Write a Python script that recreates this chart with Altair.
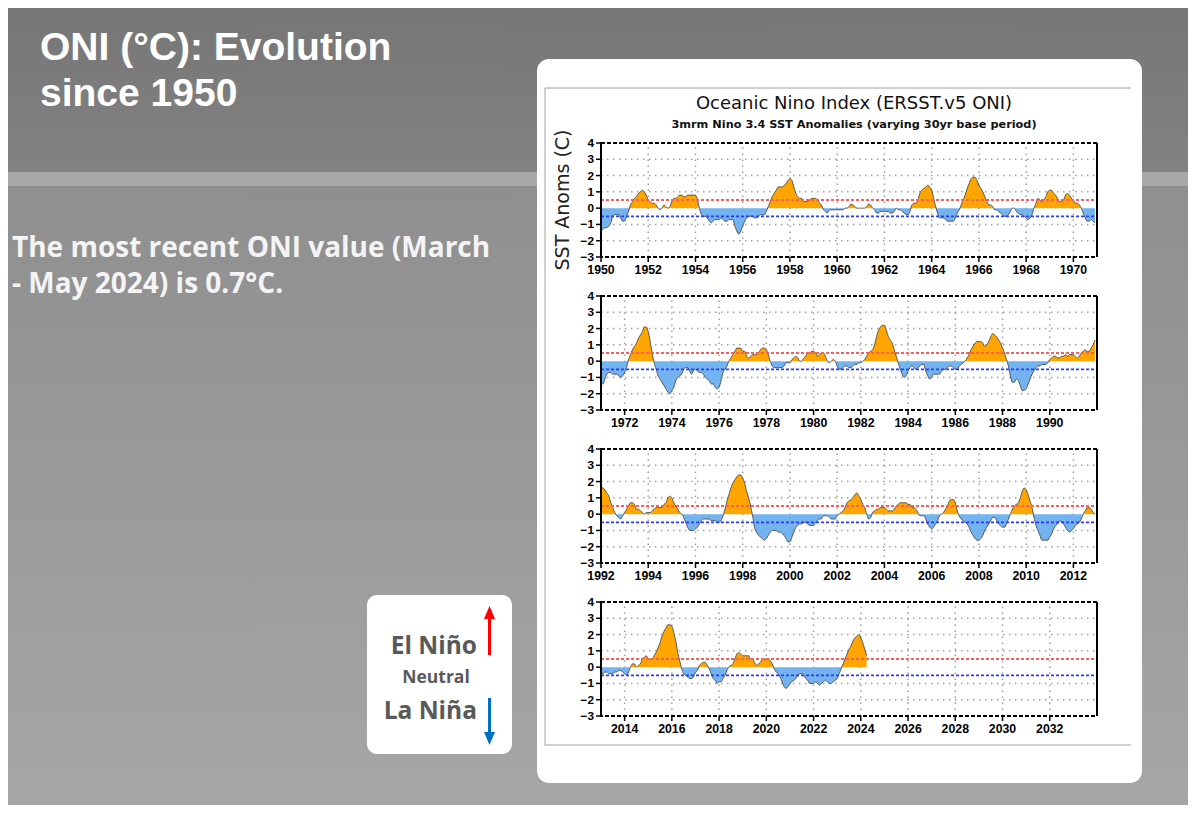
import altair as alt
import pandas as pd

# ---------------- data: 3-month running mean ONI (DJF, JFM, ... NDJ) ----------------
ONI_1950S = [
    -1.4, -1.3, -1.2, -1.2, -1.1, -0.9, -0.5, -0.4, -0.4, -0.4, -0.6, -0.8,
    -0.8, -0.5, -0.2, 0.2, 0.4, 0.6, 0.7, 0.9, 1.0, 1.1, 1.0, 0.8,
    0.5, 0.4, 0.3, 0.3, 0.2, 0.0, -0.1, 0.0, 0.2, 0.1, 0.0, 0.1,
    0.4, 0.6, 0.6, 0.7, 0.8, 0.8, 0.7, 0.7, 0.8, 0.8, 0.8, 0.8,
    0.8, 0.5, 0.0, -0.4, -0.5, -0.5, -0.6, -0.8, -0.9, -0.8, -0.7, -0.7,
    -0.7, -0.6, -0.7, -0.8, -0.8, -0.7, -0.7, -0.7, -1.1, -1.4, -1.6, -1.4,
    -1.1, -0.8, -0.6, -0.5, -0.5, -0.5, -0.6, -0.6, -0.5, -0.4, -0.4, -0.4,
    -0.2, 0.1, 0.4, 0.7, 0.9, 1.1, 1.3, 1.3, 1.3, 1.4, 1.5, 1.7,
    1.8, 1.7, 1.3, 0.9, 0.7, 0.6, 0.6, 0.4, 0.4, 0.4, 0.5, 0.6,
    0.6, 0.6, 0.5, 0.3, 0.2, -0.1, -0.2, -0.3, -0.1, -0.1, -0.1, -0.1,
]
ONI_1960S = [
    -0.1, -0.1, -0.1, -0.1, 0.0, 0.0, 0.1, 0.25, 0.2, 0.1, 0.0, 0.0,
    0.0, 0.0, 0.0, 0.1, 0.25, 0.2, 0.0, -0.1, -0.3, -0.3, -0.2, -0.2,
    -0.2, -0.2, -0.2, -0.3, -0.3, -0.2, 0.0, -0.1, -0.1, -0.2, -0.3, -0.4,
    -0.4, -0.2, 0.2, 0.3, 0.3, 0.5, 0.9, 1.1, 1.2, 1.3, 1.4, 1.3,
    1.1, 0.6, 0.1, -0.3, -0.6, -0.6, -0.6, -0.7, -0.8, -0.8, -0.8, -0.8,
    -0.6, -0.3, -0.1, 0.2, 0.5, 0.8, 1.2, 1.5, 1.8, 1.9, 1.9, 1.7,
    1.4, 1.2, 1.0, 0.7, 0.4, 0.2, 0.2, 0.1, -0.1, -0.1, -0.2, -0.3,
    -0.4, -0.5, -0.5, -0.4, -0.2, 0.0, 0.0, -0.2, -0.3, -0.4, -0.4, -0.5,
    -0.6, -0.7, -0.6, -0.4, 0.0, 0.3, 0.6, 0.5, 0.4, 0.5, 0.7, 1.0,
    1.1, 1.1, 0.9, 0.8, 0.6, 0.4, 0.4, 0.5, 0.8, 0.9, 0.8, 0.6,
]
ONI_1970S = [
    0.5, 0.3, 0.3, 0.2, 0.0, -0.3, -0.6, -0.8, -0.8, -0.7, -0.8, -0.9,
    -1.4, -1.4, -1.1, -0.8, -0.7, -0.7, -0.8, -0.8, -0.8, -0.9, -1.0, -0.9,
    -0.7, -0.4, 0.1, 0.4, 0.7, 0.9, 1.1, 1.4, 1.6, 1.8, 2.1, 2.1,
    1.8, 1.2, 0.5, -0.1, -0.5, -0.9, -1.1, -1.3, -1.5, -1.7, -1.9, -2.0,
    -1.8, -1.6, -1.2, -1.0, -0.9, -0.8, -0.5, -0.4, -0.4, -0.6, -0.8, -0.6,
    -0.5, -0.6, -0.7, -0.7, -0.8, -1.0, -1.1, -1.2, -1.4, -1.4, -1.6, -1.7,
    -1.6, -1.2, -0.7, -0.5, -0.3, 0.0, 0.2, 0.4, 0.6, 0.8, 0.8, 0.8,
    0.6, 0.6, 0.3, 0.2, 0.3, 0.4, 0.4, 0.4, 0.5, 0.7, 0.8, 0.8,
    0.7, 0.4, 0.0, -0.3, -0.4, -0.4, -0.4, -0.4, -0.4, -0.3, -0.1, -0.1,
    -0.1, 0.1, 0.2, 0.3, 0.2, 0.0, 0.0, 0.2, 0.3, 0.5, 0.5, 0.6,
]
ONI_1980S = [
    0.6, 0.5, 0.3, 0.4, 0.5, 0.5, 0.3, 0.0, -0.1, 0.0, 0.1, 0.0,
    -0.3, -0.5, -0.5, -0.4, -0.3, -0.3, -0.4, -0.4, -0.3, -0.2, -0.2, -0.1,
    -0.1, 0.0, 0.1, 0.3, 0.5, 0.6, 0.7, 1.0, 1.5, 1.9, 2.1, 2.2,
    2.2, 1.9, 1.5, 1.3, 1.1, 0.7, 0.3, -0.1, -0.5, -0.8, -1.0, -0.9,
    -0.6, -0.4, -0.3, -0.4, -0.5, -0.4, -0.3, -0.2, -0.2, -0.6, -0.9, -1.1,
    -1.0, -0.8, -0.8, -0.8, -0.8, -0.6, -0.5, -0.5, -0.4, -0.3, -0.3, -0.4,
    -0.5, -0.5, -0.3, -0.2, -0.1, 0.0, 0.2, 0.4, 0.7, 0.9, 1.1, 1.2,
    1.2, 1.2, 1.1, 0.9, 1.0, 1.2, 1.5, 1.7, 1.6, 1.5, 1.3, 1.1,
    0.8, 0.5, 0.1, -0.3, -0.9, -1.3, -1.3, -1.1, -1.2, -1.5, -1.8, -1.8,
    -1.7, -1.4, -1.1, -0.8, -0.6, -0.4, -0.3, -0.3, -0.2, -0.2, -0.2, -0.1,
]
ONI_1990S = [
    0.1, 0.2, 0.3, 0.3, 0.2, 0.2, 0.3, 0.3, 0.4, 0.3, 0.4, 0.4,
    0.4, 0.3, 0.2, 0.3, 0.5, 0.6, 0.7, 0.6, 0.6, 0.8, 1.0, 1.3,
    1.7, 1.6, 1.5, 1.3, 1.1, 0.7, 0.4, 0.1, -0.1, -0.2, -0.3, -0.1,
    0.1, 0.3, 0.5, 0.7, 0.7, 0.6, 0.3, 0.3, 0.2, 0.1, 0.0, 0.1,
    0.1, 0.1, 0.2, 0.3, 0.4, 0.4, 0.4, 0.4, 0.6, 0.7, 1.0, 1.1,
    1.0, 0.7, 0.5, 0.3, 0.1, 0.0, -0.2, -0.5, -0.8, -1.0, -1.0, -1.0,
    -0.9, -0.8, -0.6, -0.4, -0.3, -0.3, -0.3, -0.3, -0.4, -0.4, -0.4, -0.5,
    -0.5, -0.4, -0.1, 0.3, 0.8, 1.2, 1.6, 1.9, 2.1, 2.3, 2.4, 2.4,
    2.2, 1.9, 1.4, 1.0, 0.5, -0.1, -0.8, -1.1, -1.3, -1.4, -1.5, -1.6,
    -1.5, -1.3, -1.1, -1.0, -1.0, -1.0, -1.1, -1.1, -1.2, -1.3, -1.5, -1.7,
]
ONI_2000S = [
    -1.7, -1.4, -1.1, -0.8, -0.7, -0.6, -0.6, -0.5, -0.5, -0.6, -0.7, -0.7,
    -0.7, -0.5, -0.4, -0.3, -0.3, -0.1, -0.1, -0.1, -0.2, -0.3, -0.3, -0.3,
    -0.1, 0.0, 0.1, 0.2, 0.4, 0.7, 0.8, 0.9, 1.0, 1.2, 1.3, 1.1,
    0.9, 0.6, 0.4, 0.0, -0.3, -0.2, 0.1, 0.2, 0.3, 0.3, 0.4, 0.4,
    0.4, 0.3, 0.2, 0.2, 0.2, 0.3, 0.5, 0.6, 0.7, 0.7, 0.7, 0.7,
    0.6, 0.6, 0.4, 0.4, 0.3, 0.1, -0.1, -0.1, -0.1, -0.3, -0.6, -0.8,
    -0.9, -0.8, -0.6, -0.4, -0.1, 0.0, 0.1, 0.3, 0.5, 0.8, 0.9, 0.9,
    0.7, 0.2, -0.1, -0.3, -0.4, -0.5, -0.6, -0.8, -1.1, -1.3, -1.5, -1.6,
    -1.6, -1.5, -1.3, -1.0, -0.8, -0.6, -0.4, -0.2, -0.2, -0.4, -0.6, -0.7,
    -0.8, -0.8, -0.6, -0.3, 0.0, 0.3, 0.5, 0.6, 0.7, 1.0, 1.4, 1.6,
]
ONI_2010S = [
    1.5, 1.2, 0.8, 0.4, -0.2, -0.7, -1.0, -1.3, -1.6, -1.6, -1.6, -1.6,
    -1.4, -1.2, -0.9, -0.7, -0.6, -0.4, -0.5, -0.6, -0.8, -1.0, -1.1, -1.0,
    -0.9, -0.7, -0.6, -0.5, -0.3, 0.0, 0.2, 0.4, 0.4, 0.3, 0.1, 0.0,
    -0.4, -0.4, -0.3, -0.3, -0.4, -0.4, -0.4, -0.3, -0.3, -0.2, -0.2, -0.3,
    -0.4, -0.5, -0.3, 0.0, 0.2, 0.2, 0.0, 0.1, 0.2, 0.5, 0.6, 0.7,
    0.5, 0.5, 0.5, 0.7, 0.9, 1.2, 1.5, 1.9, 2.2, 2.4, 2.6, 2.6,
    2.5, 2.1, 1.6, 0.9, 0.4, -0.1, -0.4, -0.5, -0.6, -0.7, -0.7, -0.6,
    -0.3, -0.2, 0.1, 0.2, 0.3, 0.3, 0.1, -0.1, -0.4, -0.7, -0.8, -1.0,
    -0.9, -0.9, -0.7, -0.5, -0.2, 0.0, 0.1, 0.2, 0.5, 0.8, 0.9, 0.8,
    0.7, 0.7, 0.7, 0.7, 0.5, 0.5, 0.3, 0.1, 0.2, 0.3, 0.5, 0.5,
]
ONI_2020S = [
    0.5, 0.5, 0.4, 0.2, -0.1, -0.3, -0.4, -0.6, -0.9, -1.2, -1.3, -1.2,
    -1.0, -0.9, -0.8, -0.7, -0.5, -0.4, -0.4, -0.5, -0.7, -0.8, -1.0, -1.0,
    -1.0, -0.9, -1.0, -1.1, -1.0, -0.9, -0.8, -0.9, -1.0, -1.0, -0.9, -0.8,
    -0.7, -0.4, -0.1, 0.2, 0.5, 0.8, 1.1, 1.3, 1.6, 1.8, 1.9, 2.0,
    1.8, 1.5, 1.1, 0.7,
]
DECADE_STARTS = [1950, 1960, 1970, 1980, 1990, 2000, 2010, 2020]

PANEL_STARTS = [1950, 1971, 1992, 2013]
PANEL_SPAN = 21
PANEL_TICKS = [
    [1950, 1952, 1954, 1956, 1958, 1960, 1962, 1964, 1966, 1968, 1970],
    [1972, 1974, 1976, 1978, 1980, 1982, 1984, 1986, 1988, 1990],
    [1992, 1994, 1996, 1998, 2000, 2002, 2004, 2006, 2008, 2010, 2012],
    [2014, 2016, 2018, 2020, 2022, 2024, 2026, 2028, 2030, 2032],
]
Y_TICKS = [-3, -2, -1, 0, 1, 2, 3, 4]
GRID_Y = [-2, -1, 1, 2, 3]
EL_NINO_LEVEL = [0.5]
LA_NINA_LEVEL = [-0.5]

TITLE_LINES = ["ONI (°C): Evolution", "since 1950"]
BODY_LINES = ["The most recent ONI value (March", "- May 2024) is 0.7°C."]
LEGEND_TEXT = ["El Niño", "Neutral", "La Niña"]
CHART_TITLE = "Oceanic Nino Index (ERSST.v5 ONI)"
CHART_SUBTITLE = "3mrm Nino 3.4 SST Anomalies (varying 30yr base period)"
Y_TITLE = "SST Anoms (C)"

# ---------------- build the series table ----------------
times, vals = [], []
for d0, arr in zip(DECADE_STARTS, [ONI_1950S, ONI_1960S, ONI_1970S, ONI_1980S,
                                   ONI_1990S, ONI_2000S, ONI_2010S, ONI_2020S]):
    for i, v in enumerate(arr):
        times.append(d0 + i / 12.0)
        vals.append(v)
series = pd.DataFrame({"t": times, "v": vals})
series["pos"] = series["v"].clip(lower=0)
series["neg"] = series["v"].clip(upper=0)

# ---------------- layout (chart pixels) ----------------
W, H = 1180, 797
PX0, PX1 = 593, 1089
PANEL_TOPS = [135, 288, 441, 594]
PANEL_H = 114
ORANGE = "#FFA500"
LIGHTBLUE = "#73b3f0"
LABEL_FONT = "Liberation Sans"

one = pd.DataFrame({"k": [0]})


def box(x, x2, y, y2, fill, radius=0):
    return alt.Chart(one).mark_rect(fill=fill, cornerRadius=radius).encode(
        x=alt.value(x), x2=alt.value(x2), y=alt.value(y), y2=alt.value(y2))


def hline(x, x2, y, color, width):
    return alt.Chart(one).mark_rule(color=color, strokeWidth=width).encode(
        x=alt.value(x), x2=alt.value(x2), y=alt.value(y))


def vline(x, y, y2, color, width):
    return alt.Chart(one).mark_rule(color=color, strokeWidth=width).encode(
        x=alt.value(x), y=alt.value(y), y2=alt.value(y2))


def txt(text, x, y, size, color, weight="bold", font="Open Sans", align="left",
        baseline="alphabetic", angle=0, opacity=1.0, line_height=20):
    return alt.Chart(one).mark_text(
        text=text, font=font, fontSize=size, fontWeight=weight, color=color,
        align=align, baseline=baseline, angle=angle, opacity=opacity, lineHeight=line_height,
    ).encode(x=alt.value(x), y=alt.value(y))


def grad(c0, c1):
    return alt.Gradient(gradient="linear",
                        stops=[alt.GradientStop(color=c0, offset=0),
                               alt.GradientStop(color=c1, offset=1)],
                        x1=0, x2=0, y1=0, y2=1)


decor = [
    box(0, W, 0, 164, grad("#767676", "#828282")),
    box(0, W, 164, 178, "#a8a8a8"),
    box(0, W, 178, H, grad("#8f8f8f", "#a6a6a6")),
    box(529, 1134, 51, 775, "white", 12),
    vline(537, 80, 737, "#a0a0a0", 1),
    hline(537, 1123, 80, "#a0a0a0", 1),
    hline(537, 1123, 737, "#a0a0a0", 1),
    # slide title and comment (multi-line texts)
    txt(TITLE_LINES, 32, 52, 39, "white", font="Liberation Sans", line_height=46),
    txt(BODY_LINES, 4, 249, 28, "#f4f4f4", line_height=36),
    # legend box
    box(359, 504, 587, 746, "white", 10),
    txt(LEGEND_TEXT[0], 469, 646, 24.5, "#595959", align="right"),
    txt(LEGEND_TEXT[1], 428, 675, 17.5, "#595959", align="center"),
    txt(LEGEND_TEXT[2], 469, 711, 24.5, "#595959", align="right"),
    vline(481.5, 647, 606, "#ff0000", 3),
    alt.Chart(one).mark_point(shape="M0,-1L-0.85,1L0.85,1Z", filled=True, color="#ff0000",
                              size=169, opacity=1, strokeWidth=0).encode(
        x=alt.value(481.5), y=alt.value(604.5)),
    vline(481.5, 690, 729, "#0070c0", 3),
    alt.Chart(one).mark_point(shape="M0,1L-0.85,-1L0.85,-1Z", filled=True, color="#0070c0",
                              size=169, opacity=1, strokeWidth=0).encode(
        x=alt.value(481.5), y=alt.value(730.5)),
    # chart titles
    txt(CHART_TITLE, 846, 96, 18, "#111111", weight="normal", font="DejaVu Sans",
        align="center", baseline="middle"),
    txt(CHART_SUBTITLE, 846, 117, 11.3, "#111111", weight="bold", font="DejaVu Sans",
        align="center", baseline="middle"),
    txt(Y_TITLE, 555, 192, 19, "#222222", weight="normal", font="DejaVu Sans",
        align="center", baseline="middle", angle=270),
]


def panel(k):
    s = PANEL_STARTS[k]
    e = s + PANEL_SPAN
    top = PANEL_TOPS[k]
    bot = top + PANEL_H
    xs = alt.Scale(domain=[s, e], range=[PX0, PX1], zero=False, nice=False)
    ys = alt.Scale(domain=[-3, 4], range=[bot, top], zero=False, nice=False)
    d = series[(series["t"] > s - 0.01) & (series["t"] < e - 0.01)]

    def X(f):
        return alt.X(f, type="quantitative", scale=xs, axis=None)

    def Y(f):
        return alt.Y(f, type="quantitative", scale=ys, axis=None, stack=None)

    inner_ticks = [t for t in PANEL_TICKS[k] if s < t < e]
    dots = dict(color="#a0a0a0", strokeWidth=1.5, strokeDash=[1.5, 4.5])
    vgrid = alt.Chart(pd.DataFrame({"x": inner_ticks, "lo": -3, "hi": 4})).mark_rule(**dots).encode(
        x=X("x"), y=Y("lo"), y2="hi")
    hgrid = alt.Chart(pd.DataFrame({"y": GRID_Y, "lo": s, "hi": e})).mark_rule(**dots).encode(
        x=X("lo"), x2="hi", y=Y("y"))
    pos = alt.Chart(d).mark_area(color=ORANGE, interpolate="monotone").encode(x=X("t"), y=Y("pos"))
    neg = alt.Chart(d).mark_area(color=LIGHTBLUE, interpolate="monotone").encode(x=X("t"), y=Y("neg"))
    line = alt.Chart(d).mark_line(color="#4a4a4a", strokeWidth=0.9, interpolate="monotone").encode(
        x=X("t"), y=Y("v"))
    red = alt.Chart(pd.DataFrame({"y": EL_NINO_LEVEL, "lo": s, "hi": e})).mark_rule(
        color="#ff5c5c", strokeWidth=1.8, strokeDash=[3, 2]).encode(x=X("lo"), x2="hi", y=Y("y"))
    blue = alt.Chart(pd.DataFrame({"y": LA_NINA_LEVEL, "lo": s, "hi": e})).mark_rule(
        color="#2a3cff", strokeWidth=1.8, strokeDash=[3, 2]).encode(x=X("lo"), x2="hi", y=Y("y"))
    frame = alt.Chart(pd.DataFrame({"x0": [s], "x1": [e], "y0": [-3], "y1": [4]})).mark_rect(
        fillOpacity=0, stroke="black", strokeWidth=2, strokeDash=[4, 2]).encode(
        x=X("x0"), x2="x1", y=Y("y0"), y2="y1")
    sides = alt.Chart(pd.DataFrame({"x": [s, e], "lo": [-3, -3], "hi": [4, 4]})).mark_rule(
        color="black", strokeWidth=2).encode(x=X("x"), y=Y("lo"), y2="hi")
    # y axis: ticks and labels
    ydf = pd.DataFrame({"x": s, "y": Y_TICKS})
    yticks = alt.Chart(ydf).mark_tick(orient="horizontal", size=5, thickness=1.5, color="black",
                                      xOffset=-2.5, opacity=1).encode(x=X("x"), y=Y("y"))
    ylabels = alt.Chart(ydf).mark_text(font=LABEL_FONT, fontWeight="bold", fontSize=11.8,
                                       color="black", align="right", baseline="middle",
                                       dx=-7).encode(
        x=X("x"), y=Y("y"), text=alt.Text("y:Q", format="d"))
    # x axis: ticks and labels
    xdf = pd.DataFrame({"x": PANEL_TICKS[k], "y": -3})
    xticks = alt.Chart(xdf).mark_tick(orient="vertical", size=5, thickness=1.5, color="black",
                                      yOffset=2.5, opacity=1).encode(x=X("x"), y=Y("y"))
    xlabels = alt.Chart(xdf).mark_text(font=LABEL_FONT, fontWeight="bold", fontSize=12.3,
                                       color="black", align="center", baseline="top",
                                       dy=7).encode(
        x=X("x"), y=Y("y"), text=alt.Text("x:Q", format="d"))
    return alt.layer(vgrid, hgrid, pos, neg, line, red, blue, frame, sides,
                     yticks, ylabels, xticks, xlabels)


chart = alt.layer(*decor, *[panel(k) for k in range(4)]).properties(
    width=W, height=H, padding=0, autosize=alt.AutoSizeParams(type="none"),
).resolve_scale(x="independent", y="independent").configure_view(strokeWidth=0)

chart.save("out.html", embed_options={"renderer": "svg", "actions": False})
